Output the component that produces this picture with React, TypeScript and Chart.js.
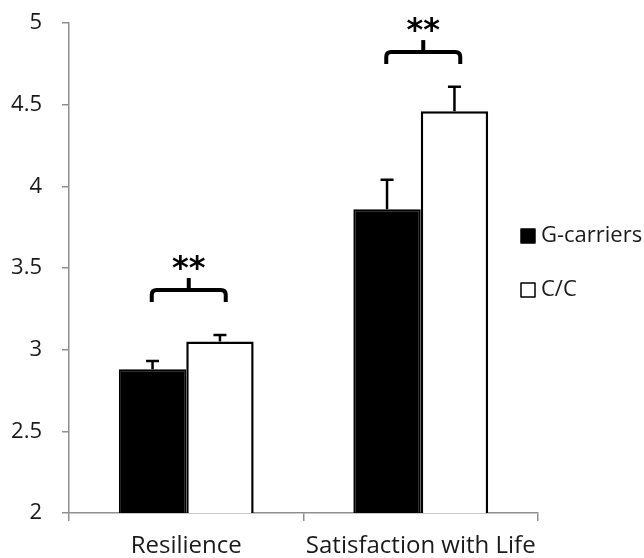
import React, { useEffect, useRef } from "react";
import { Chart, registerables } from "chart.js";

Chart.register(...registerables);

const categories = ["Resilience", "Satisfaction with Life"];
const seriesNames = ["G-carriers", "C/C"];
const gCarriers = [2.88, 3.86];
const ccValues = [3.05, 4.46];
const gErrors = [0.05, 0.18];
const ccErrors = [0.04, 0.15];
const bracketLevels = [3.365, 4.822];
const significance = ["**", "**"];
const legendLevels = [3.696, 3.365];

const FONT = "'Open Sans', 'DejaVu Sans', sans-serif";
const AXIS_COLOR = "#8f8f8f";

const overlayPlugin = {
  id: "overlay",
  afterDatasetsDraw(chart: any) {
    const ctx = chart.ctx;
    const y = chart.scales.y;
    const x = chart.scales.x;
    const errs = [gErrors, ccErrors];
    const vals = [gCarriers, ccValues];
    ctx.save();
    // error bars
    ctx.strokeStyle = "#000";
    ctx.lineWidth = 2.5;
    for (let d = 0; d < 2; d++) {
      const meta = chart.getDatasetMeta(d);
      meta.data.forEach((bar: any, i: number) => {
        const top = y.getPixelForValue(vals[d][i]);
        const et = y.getPixelForValue(vals[d][i] + errs[d][i]);
        ctx.beginPath();
        ctx.moveTo(bar.x, top);
        ctx.lineTo(bar.x, et);
        ctx.moveTo(bar.x - 6.5, et);
        ctx.lineTo(bar.x + 6.5, et);
        ctx.stroke();
      });
    }
    // brackets
    ctx.lineWidth = 4;
    ctx.lineCap = "butt";
    ctx.lineJoin = "round";
    categories.forEach((_c, i) => {
      const cx = x.getPixelForValue(i) + 2.5;
      const hw = 37;
      const yb = y.getPixelForValue(bracketLevels[i]);
      const x1 = cx - hw;
      const x2 = cx + hw;
      ctx.beginPath();
      ctx.moveTo(x1, yb + 12);
      ctx.lineTo(x1, yb + 5);
      ctx.quadraticCurveTo(x1, yb, x1 + 5, yb);
      ctx.lineTo(x2 - 5, yb);
      ctx.quadraticCurveTo(x2, yb, x2, yb + 5);
      ctx.lineTo(x2, yb + 12);
      ctx.stroke();
      ctx.beginPath();
      ctx.moveTo(cx, yb);
      ctx.lineTo(cx, yb - 12);
      ctx.stroke();
      ctx.fillStyle = "#000";
      ctx.font = `bold 32px 'DejaVu Sans', sans-serif`;
      ctx.textAlign = "center";
      ctx.textBaseline = "alphabetic";
      ctx.fillText(significance[i], cx, yb - 12);
    });
    // legend
    const lx = chart.chartArea.right - 17;
    const fills = ["#000", "#fff"];
    ctx.font = `22px ${FONT}`;
    ctx.textAlign = "left";
    ctx.textBaseline = "middle";
    seriesNames.forEach((name, i) => {
      const ry = y.getPixelForValue(legendLevels[i]);
      ctx.fillStyle = fills[i];
      ctx.fillRect(lx, ry - 7, 14, 14);
      ctx.strokeStyle = "#000";
      ctx.lineWidth = 1.5;
      ctx.strokeRect(lx, ry - 7, 14, 14);
      ctx.fillStyle = "#1a1a1a";
      ctx.fillText(name, lx + 20, ry);
    });
    ctx.restore();
  },
};

export default function App() {
  const ref = useRef<HTMLCanvasElement | null>(null);
  useEffect(() => {
    if (!ref.current) return;
    const chart = new Chart(ref.current, {
      type: "bar",
      data: {
        labels: categories,
        datasets: [
          {
            label: seriesNames[0],
            data: gCarriers,
            backgroundColor: "#000",
            borderColor: "#000",
            borderWidth: 2,
          },
          {
            label: seriesNames[1],
            data: ccValues,
            backgroundColor: "#fff",
            borderColor: "#000",
            borderWidth: 2.5,
          },
        ],
      },
      options: {
        animation: false,
        responsive: true,
        maintainAspectRatio: false,
        layout: { padding: { top: 23, right: 106, left: 0, bottom: 0 } },
        datasets: { bar: { barPercentage: 1, categoryPercentage: 0.575 } },
        plugins: { legend: { display: false }, tooltip: { enabled: false } },
        scales: {
          x: {
            grid: {
              display: true,
              drawOnChartArea: false,
              drawTicks: true,
              tickLength: 8,
              color: AXIS_COLOR,
              lineWidth: 1.5,
              offset: true,
            },
            border: { color: AXIS_COLOR, width: 1.5 },
            ticks: { color: "#1a1a1a", font: { family: FONT, size: 24 }, padding: 11, maxRotation: 0 },
            afterFit: (s: any) => {
              s.height = 45;
              s.paddingLeft = 0;
              s.paddingRight = 0;
            },
          },
          y: {
            min: 2,
            max: 5,
            ticks: {
              stepSize: 0.5,
              color: "#1a1a1a",
              font: { family: FONT, size: 22 },
              padding: 20,
              callback: (v: any) => String(Number(v)),
            },
            grid: {
              display: true,
              drawOnChartArea: false,
              drawTicks: true,
              tickLength: 7,
              color: AXIS_COLOR,
              lineWidth: 1.5,
            },
            border: { color: AXIS_COLOR, width: 1.5 },
            afterFit: (s: any) => {
              s.width = 69;
              s.paddingTop = 0;
              s.paddingBottom = 0;
            },
          },
        },
      },
      plugins: [overlayPlugin],
    });
    return () => chart.destroy();
  }, []);
  return (
    <div style={{ position: "absolute", left: 0, top: 0, width: 644, height: 558, background: "#fff" }}>
      <canvas ref={ref} />
    </div>
  );
}
